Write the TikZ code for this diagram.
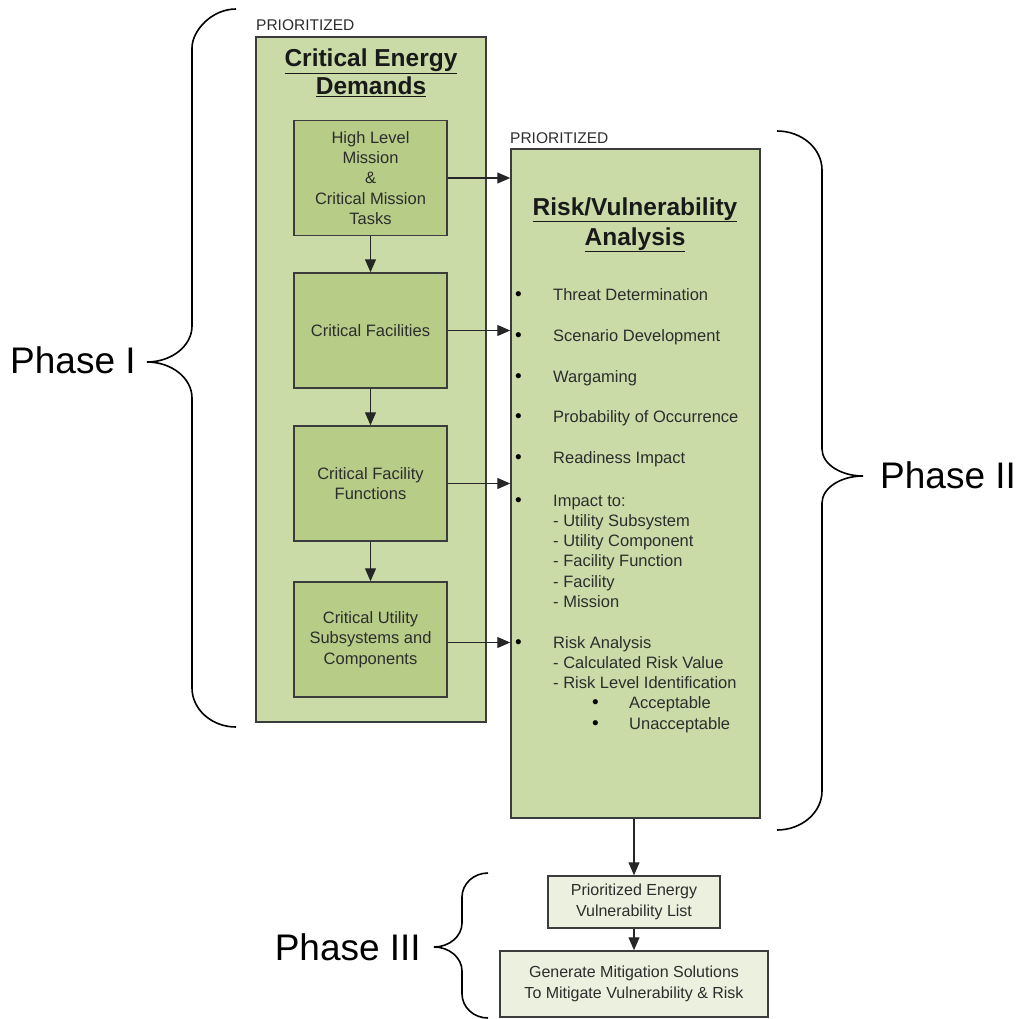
\documentclass[tikz,border=0pt]{standalone}
\usepackage{fontspec}
\setmainfont{Liberation Sans}
\usetikzlibrary{arrows.meta}
\definecolor{outerfill}{RGB}{202,219,168}
\definecolor{innerfill}{RGB}{183,204,135}
\definecolor{palefill}{RGB}{236,240,222}
\definecolor{edgec}{RGB}{60,60,60}
\definecolor{txtc}{RGB}{45,45,45}
\begin{document}
\begin{tikzpicture}[x=1pt,y=-1pt,
  boxbase/.style={draw=edgec, line width=1.5pt, rectangle, inner sep=0pt},
  outerbox/.style={boxbase, fill=outerfill},
  innerbox/.style={boxbase, fill=innerfill, minimum width=153pt, minimum height=115pt,
     align=center, text=txtc, font=\fontsize{16.5}{20.3}\selectfont},
  palebox/.style={boxbase, fill=palefill, align=center, text=txtc,
     font=\fontsize{16}{20.5}\selectfont},
  prio/.style={anchor=base west, inner sep=0pt, text=txtc, font=\fontsize{15.5}{18}\selectfont},
  ttl/.style={anchor=base, inner sep=0pt, text=black!90, font=\fontsize{24.5}{29}\selectfont\bfseries},
  item/.style={anchor=base west, inner sep=0pt, text=txtc, font=\fontsize{16.5}{20}\selectfont},
  bul/.style={anchor=base, inner sep=0pt, text=black, font=\fontsize{19}{20}\selectfont},
  phase/.style={inner sep=0pt, text=black, font=\fontsize{37}{40}\selectfont},
  arr/.style={draw=black!85, line width=1.3pt, -{Triangle[length=13pt,width=11pt]}},
  brc/.style={draw=black, line width=1.6pt}]
\useasboundingbox (0,0) rectangle (1015,1019);

% Phase I column
\node[outerbox, minimum width=230pt, minimum height=685pt] (CED) at (371,379.5) {};
\node[prio] (prio1) at (256,31) {PRIORITIZED};
\node[ttl] (cedt1) at (371,67) {\underline{Critical Energy}};
\node[ttl] (cedt2) at (371,95) {\underline{Demands}};
\node[innerbox] (b1) at (370.5,178) {High Level\\Mission\\\&\\Critical Mission\\Tasks};
\node[innerbox] (b2) at (370.5,330.5) {Critical Facilities};
\node[innerbox] (b3) at (370.5,483.5) {Critical Facility\\Functions};
\node[innerbox] (b4) at (370.5,639.5) {Critical Utility\\Subsystems and\\Components};

% Phase II column
\node[outerbox, minimum width=249pt, minimum height=669pt] (RVA) at (635.5,483.5) {};
\node[prio] (prio2) at (510,144) {PRIORITIZED};
\node[ttl] (rvat1) at (635,215) {\underline{Risk/Vulnerability}};
\node[ttl] (rvat2) at (635,245) {\underline{Analysis}};

\node[bul] (u1) at (518.5,300) {•};
\node[item] (i1) at (553,300) {Threat Determination};
\node[bul] (u2) at (518.5,341) {•};
\node[item] (i2) at (553,341) {Scenario Development};
\node[bul] (u3) at (518.5,382) {•};
\node[item] (i3) at (553,382) {Wargaming};
\node[bul] (u4) at (518.5,422) {•};
\node[item] (i4) at (553,422) {Probability of Occurrence};
\node[bul] (u5) at (518.5,463) {•};
\node[item] (i5) at (553,463) {Readiness Impact};
\node[bul] (u6) at (518.5,506) {•};
\node[item] (i6) at (553,506) {Impact to:};
\node[item] (i6a) at (553,526) {- Utility Subsystem};
\node[item] (i6b) at (553,546) {- Utility Component};
\node[item] (i6c) at (553,566) {- Facility Function};
\node[item] (i6d) at (553,587) {- Facility};
\node[item] (i6e) at (553,607) {- Mission};
\node[bul] (u7) at (518.5,648) {•};
\node[item] (i7) at (553,648) {Risk Analysis};
\node[item] (i7a) at (553,668) {- Calculated Risk Value};
\node[item] (i7b) at (553,688) {- Risk Level Identification};
\node[bul] (u8) at (595.5,708) {•};
\node[item] (i8) at (629,708) {Acceptable};
\node[bul] (u9) at (595.5,729) {•};
\node[item] (i9) at (629,729) {Unacceptable};

% Phase III boxes
\node[palebox, minimum width=172pt, minimum height=52pt] (P) at (634,902) {Prioritized Energy\\Vulnerability List};
\node[palebox, minimum width=268pt, minimum height=66pt] (G) at (634,984) {Generate Mitigation Solutions\\To Mitigate Vulnerability \& Risk};

% connectors
\draw[arr] (b1.south) -- (b2.north);
\draw[arr] (b2.south) -- (b3.north);
\draw[arr] (b3.south) -- (b4.north);
\draw[arr] (b1.east) -- (b1.east -| RVA.west);
\draw[arr] (b2.east) -- (b2.east -| RVA.west);
\draw[arr] (b3.east) -- (b3.east -| RVA.west);
\draw[arr] ([yshift=-3pt]b4.east) -- ([yshift=-3pt]b4.east -| RVA.west);
\draw[arr] (P.north |- RVA.south) -- (P.north);
\draw[arr] (P.south) -- (G.north);

% braces
\draw[brc] (236,9) .. controls (211.8,9) and (192,30.5) .. (192,48)
  -- (192,326) .. controls (192,345.8) and (171.75,362) .. (147,362)
  .. controls (171.75,362) and (192,378.2) .. (192,398)
  -- (192,688) .. controls (192,709.45) and (211.8,727) .. (236,727);
\draw[brc] (777,131) .. controls (801.75,131) and (822,148.5) .. (822,170)
  -- (822,449) .. controls (822,463.85) and (840.45,476) .. (863,476)
  .. controls (840.45,476) and (822,488.15) .. (822,503)
  -- (822,791) .. controls (822,812.45) and (801.75,830) .. (777,830);
\draw[brc] (488,873) .. controls (473.7,873) and (462,883.8) .. (462,897)
  -- (462,923) .. controls (462,936.2) and (449.4,947) .. (434,947)
  .. controls (449.4,947) and (462,957.8) .. (462,971)
  -- (462,994) .. controls (462,1007.2) and (473.7,1018) .. (488,1018);

\node[phase, anchor=base west] (ph1) at (10,373) {Phase I};
\node[phase, anchor=base west] (ph2) at (880,488) {Phase II};
\node[phase, anchor=base east] (ph3) at (421,960) {Phase III};
\end{tikzpicture}
\end{document}
